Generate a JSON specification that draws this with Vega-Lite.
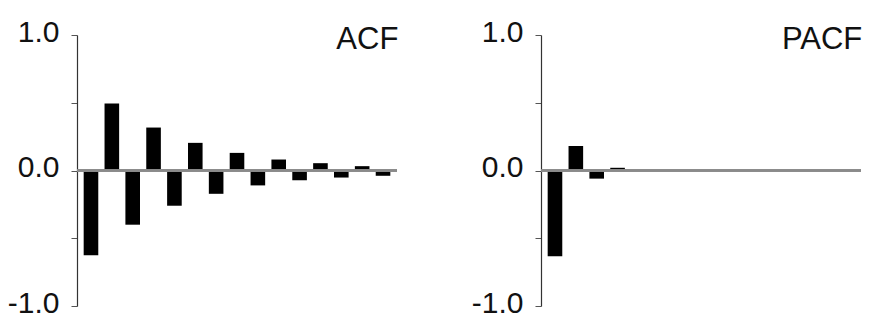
{
  "$schema": "https://vega.github.io/schema/vega-lite/v6.json",
  "background": "white",
  "padding": {"left": 7, "top": 17, "right": 5, "bottom": 0},
  "config": {
    "view": {"stroke": null},
    "font": "Liberation Sans",
    "concat": {"spacing": 72}
  },
  "datasets": {
    "acf": [
      {"lag": 1, "value": -0.625},
      {"lag": 2, "value": 0.494},
      {"lag": 3, "value": -0.40},
      {"lag": 4, "value": 0.317},
      {"lag": 5, "value": -0.26},
      {"lag": 6, "value": 0.204},
      {"lag": 7, "value": -0.172},
      {"lag": 8, "value": 0.13},
      {"lag": 9, "value": -0.11},
      {"lag": 10, "value": 0.081},
      {"lag": 11, "value": -0.072},
      {"lag": 12, "value": 0.054},
      {"lag": 13, "value": -0.052},
      {"lag": 14, "value": 0.032},
      {"lag": 15, "value": -0.039}
    ],
    "pacf": [
      {"lag": 1, "value": -0.632},
      {"lag": 2, "value": 0.18},
      {"lag": 3, "value": -0.06},
      {"lag": 4, "value": 0.02},
      {"lag": 5, "value": -0.005},
      {"lag": 6, "value": 0},
      {"lag": 7, "value": 0},
      {"lag": 8, "value": 0},
      {"lag": 9, "value": 0},
      {"lag": 10, "value": 0},
      {"lag": 11, "value": 0},
      {"lag": 12, "value": 0},
      {"lag": 13, "value": 0},
      {"lag": 14, "value": 0},
      {"lag": 15, "value": 0}
    ],
    "labels": [
      {"panel": "ACF", "lag": 15, "value": 0.9},
      {"panel": "PACF", "lag": 15, "value": 0.9}
    ]
  },
  "hconcat": [
    {
      "width": 320,
      "height": 271,
      "layer": [
        {
          "data": {"name": "acf"},
          "mark": {"type": "bar", "color": "#000"},
          "encoding": {
            "x": {"field": "lag", "type": "ordinal", "axis": null, "scale": {"paddingInner": 0.3, "paddingOuter": 0.32}},
            "y": {"field": "value", "type": "quantitative", "scale": {"domain": [-1, 1], "nice": false, "zero": false},
              "axis": {"title": null, "values": [-1, -0.5, 0, 0.5, 1], "grid": false, "domainColor": "#333", "domainWidth": 1.2, "tickColor": "#555", "tickSize": 6, "labelFontSize": 30, "labelFont": "Liberation Sans", "labelColor": "#111", "labelPadding": 12, "labelOffset": -3,
                "labelExpr": "datum.value == 1 ? '1.0' : datum.value == 0 ? '0.0' : datum.value == -1 ? '-1.0' : ''"}}
          }
        },
        {
          "data": {"name": "acf"},
          "mark": {"type": "rule", "color": "#8a8a8a", "strokeWidth": 1.5},
          "encoding": {"y": {"datum": 0}}
        },
        {
          "data": {"name": "labels"},
          "transform": [{"filter": "datum.panel == 'ACF'"}],
          "mark": {"type": "text", "align": "right", "baseline": "alphabetic", "fontSize": 31, "color": "#111", "dx": 8},
          "encoding": {
            "x": {"field": "lag", "type": "ordinal", "bandPosition": 1},
            "y": {"field": "value", "type": "quantitative"},
            "text": {"field": "panel"}
          }
        }
      ]
    },
    {
      "width": 320,
      "height": 271,
      "layer": [
        {
          "data": {"name": "pacf"},
          "mark": {"type": "bar", "color": "#000"},
          "encoding": {
            "x": {"field": "lag", "type": "ordinal", "axis": null, "scale": {"paddingInner": 0.3, "paddingOuter": 0.32}},
            "y": {"field": "value", "type": "quantitative", "scale": {"domain": [-1, 1], "nice": false, "zero": false},
              "axis": {"title": null, "values": [-1, -0.5, 0, 0.5, 1], "grid": false, "domainColor": "#333", "domainWidth": 1.2, "tickColor": "#555", "tickSize": 6, "labelFontSize": 30, "labelFont": "Liberation Sans", "labelColor": "#111", "labelPadding": 12, "labelOffset": -3,
                "labelExpr": "datum.value == 1 ? '1.0' : datum.value == 0 ? '0.0' : datum.value == -1 ? '-1.0' : ''"}}
          }
        },
        {
          "data": {"name": "pacf"},
          "mark": {"type": "rule", "color": "#8a8a8a", "strokeWidth": 1.5},
          "encoding": {"y": {"datum": 0}}
        },
        {
          "data": {"name": "labels"},
          "transform": [{"filter": "datum.panel == 'PACF'"}],
          "mark": {"type": "text", "align": "right", "baseline": "alphabetic", "fontSize": 31, "color": "#111", "dx": 8},
          "encoding": {
            "x": {"field": "lag", "type": "ordinal", "bandPosition": 1},
            "y": {"field": "value", "type": "quantitative"},
            "text": {"field": "panel"}
          }
        }
      ]
    }
  ]
}
